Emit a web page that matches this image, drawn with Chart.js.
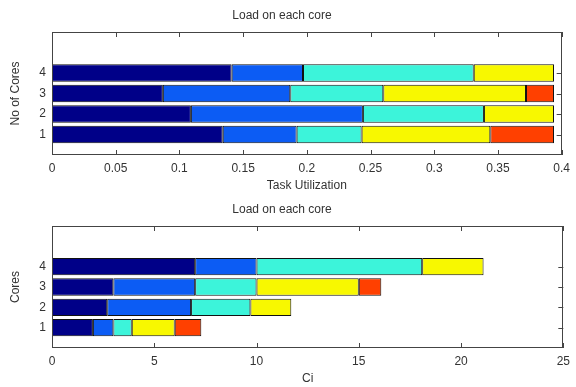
<!DOCTYPE html>
<html>
<head>
<meta charset="utf-8">
<script src="https://cdn.jsdelivr.net/npm/chart.js@4/dist/chart.umd.min.js"></script>
<style>
  html, body { margin: 0; padding: 0; background: #fff; }
  canvas { display: block; }
</style>
</head>
<body>
<canvas id="top" width="576" height="194"></canvas>
<canvas id="bottom" width="576" height="193"></canvas>
<script>
// cores on the y axis
const cores = [1, 2, 3, 4];
const coreTicks = [1, 2, 3, 4];

// task utilization per core, one array per task (stacked left to right)
const utilTask1 = [0.134, 0.109, 0.087, 0.141];
const utilTask2 = [0.058, 0.135, 0.100, 0.056];
const utilTask3 = [0.051, 0.095, 0.073, 0.134];
const utilTask4 = [0.101, 0.055, 0.112, 0.063];
const utilTask5 = [0.050, null, 0.022, null];
const utilTicks = [0, 0.05, 0.1, 0.15, 0.2, 0.25, 0.3, 0.35, 0.4];

// Ci per core
const ciTask1 = [2.0, 2.7, 3.0, 7.0];
const ciTask2 = [1.0, 4.1, 4.0, 3.0];
const ciTask3 = [0.9, 2.9, 3.0, 8.1];
const ciTask4 = [2.1, 2.0, 5.0, 3.0];
const ciTask5 = [1.3, null, 1.1, null];
const ciTicks = [0, 5, 10, 15, 20, 25];

const colors = ['#000088', '#0c5cf4', '#3cf4da', '#f8f800', '#ff4000'];
const font = { family: 'Liberation Sans, Arial, sans-serif', size: 12 };
Chart.defaults.color = '#333';

// passe les valeurs en points {x, y}, sans les trous
const toPoints = (vals) => vals
  .map((v, i) => ({ x: v, y: cores[i] }))
  .filter(p => p.x !== null);

// cadre + petites graduations vers l'intérieur, façon matlab
const boxPlugin = {
  id: 'box',
  beforeDatasetsDraw(chart) {
    const { ctx, chartArea: a, scales: { x, y } } = chart;
    ctx.save();
    ctx.strokeStyle = '#444';
    ctx.lineWidth = 1;
    ctx.beginPath();
    x.ticks.forEach(t => {
      const px = Math.round(x.getPixelForValue(t.value)) + 0.5;
      ctx.moveTo(px, a.bottom); ctx.lineTo(px, a.bottom - 5);
      ctx.moveTo(px, a.top); ctx.lineTo(px, a.top + 5);
    });
    y.ticks.forEach(t => {
      const py = Math.round(y.getPixelForValue(t.value)) + 0.5;
      ctx.moveTo(a.left, py); ctx.lineTo(a.left + 5, py);
      ctx.moveTo(a.right, py); ctx.lineTo(a.right - 5, py);
    });
    ctx.stroke();
    ctx.restore();
  },
  afterDatasetsDraw(chart) {
    const { ctx, chartArea: a } = chart;
    ctx.save();
    ctx.strokeStyle = '#444';
    ctx.lineWidth = 1;
    ctx.strokeRect(Math.round(a.left) + 0.5, Math.round(a.top) + 0.5,
      Math.round(a.width) - 1, Math.round(a.height) - 1);
    ctx.restore();
  }
};

const makeChart = (id, series, xTicks, xTitle, yTitle, xHeight) => {
  new Chart(document.getElementById(id), {
    type: 'bar',
    data: {
      datasets: series.map((vals, i) => ({
        label: 'Task ' + (i + 1),
        data: toPoints(vals),
        backgroundColor: colors[i],
        borderColor: '#111',
        borderWidth: 1,
        borderSkipped: false,
        barPercentage: 0.85,
        categoryPercentage: 1
      }))
    },
    options: {
      indexAxis: 'y',
      responsive: false,
      animation: false,
      layout: { padding: { left: 0, right: 12, top: 0, bottom: 0 } },
      plugins: {
        legend: { display: false },
        tooltip: { enabled: false },
        title: {
          display: true,
          text: 'Load on each core',
          color: '#333',
          font: { ...font, weight: 'normal' },
          padding: { top: 8, bottom: 9.6 }
        }
      },
      scales: {
        x: {
          type: 'linear',
          stacked: true,
          min: xTicks[0],
          max: xTicks[xTicks.length - 1],
          afterBuildTicks: (s) => { s.ticks = xTicks.map(v => ({ value: v })); },
          afterFit: (s) => { s.height = xHeight; },
          grid: { display: false, drawTicks: false },
          border: { display: false },
          ticks: { font, padding: 6, maxRotation: 0, autoSkip: false, callback: (v) => String(v) },
          title: { display: true, text: xTitle, font, padding: { top: 0, bottom: 1 } }
        },
        y: {
          type: 'linear',
          stacked: true,
          offset: false,
          min: 0,
          max: 6,
          afterBuildTicks: (s) => { s.ticks = coreTicks.map(v => ({ value: v })); },
          afterFit: (s) => { s.width = 52; },
          grid: { display: false, drawTicks: false, offset: false },
          border: { display: false },
          ticks: { font, padding: 6 },
          title: { display: true, text: yTitle, font, padding: { top: 8, bottom: 0 } }
        }
      }
    },
    plugins: [boxPlugin]
  });
};

makeChart('top', [utilTask1, utilTask2, utilTask3, utilTask4, utilTask5],
  utilTicks, 'Task Utilization', 'No of Cores', 39);
makeChart('bottom', [ciTask1, ciTask2, ciTask3, ciTask4, ciTask5],
  ciTicks, 'Ci', 'Cores', 39);
</script>
</body>
</html>
